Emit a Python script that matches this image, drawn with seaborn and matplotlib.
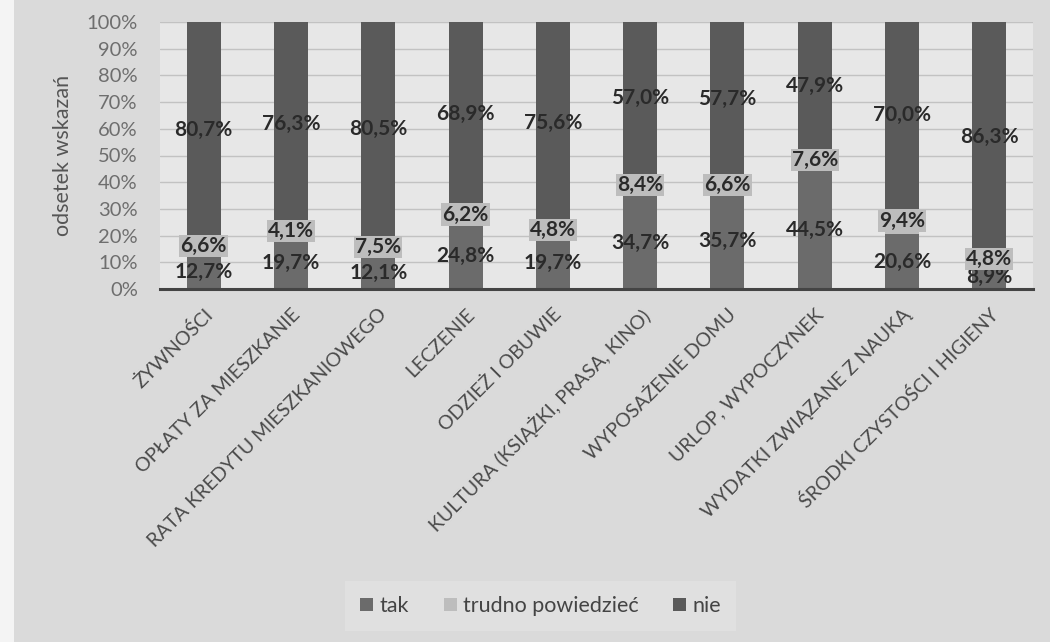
import numpy as np
import pandas as pd
import matplotlib
matplotlib.use("Agg")
import matplotlib.pyplot as plt
import seaborn as sns
from matplotlib.patches import Patch, Rectangle

categories = [
    "ŻYWNOŚCI",
    "OPŁATY ZA MIESZKANIE",
    "RATA KREDYTU MIESZKANIOWEGO",
    "LECZENIE",
    "ODZIEŻ I OBUWIE",
    "KULTURA (KSIĄŻKI, PRASA, KINO)",
    "WYPOSAŻENIE DOMU",
    "URLOP, WYPOCZYNEK",
    "WYDATKI ZWIĄZANE Z NAUKĄ",
    "ŚRODKI CZYSTOŚCI I HIGIENY",
]
tak = [12.7, 19.7, 12.1, 24.8, 19.7, 34.7, 35.7, 44.5, 20.6, 8.9]
trudno = [6.6, 4.1, 7.5, 6.2, 4.8, 8.4, 6.6, 7.6, 9.4, 4.8]
nie = [80.7, 76.3, 80.5, 68.9, 75.6, 57.0, 57.7, 47.9, 70.0, 86.3]
series_names = ["tak", "trudno powiedzieć", "nie"]
y_ticks = list(range(0, 101, 10))

c_tak = "#6b6b6b"
c_trudno = "#bdbdbd"
c_nie = "#5a5a5a"

sns.set_theme(style="white")
plt.rcParams["font.family"] = ["Lato", "DejaVu Sans"]

df = pd.DataFrame({"kat": categories, "tak": tak, "trudno": trudno, "nie": nie})
df["cum1"] = df["tak"]
df["cum2"] = df["tak"] + df["trudno"]
df["cum3"] = df["cum2"] + df["nie"]

fig = plt.figure(figsize=(10.5, 6.42), dpi=100)
fig.patch.set_facecolor("#dadada")
# pale strip along the left edge of the page
fig.patches.append(Rectangle((0, 0), 14 / 1050, 1, transform=fig.transFigure,
                             facecolor="#f4f4f4", edgecolor="none", zorder=0))

ax = fig.add_axes([160 / 1050, 1 - 289 / 642, 873 / 1050, 267 / 642])
ax.set_facecolor("#e7e7e7")

bw = 0.39
# cumulative layers, drawn back to front
sns.barplot(data=df, x="kat", y="cum3", color=c_nie, width=bw, saturation=1,
            ax=ax, zorder=3)
sns.barplot(data=df, x="kat", y="cum2", color=c_trudno, width=bw, saturation=1,
            ax=ax, zorder=3)
sns.barplot(data=df, x="kat", y="cum1", color=c_tak, width=bw, saturation=1,
            ax=ax, zorder=3)
for p in ax.patches:
    p.set_edgecolor("none")

ax.set_ylim(0, 100)
ax.set_xlim(-0.5, len(categories) - 0.5)
ax.set_yticks(y_ticks)
ax.set_yticklabels([f"{v}%" for v in y_ticks], color="#6e6e6e", fontsize=14.5)
ax.tick_params(axis="y", length=0, pad=16)
ax.tick_params(axis="x", length=0, pad=12)
ax.yaxis.grid(True, color="#c2c2c2", linewidth=1.0, zorder=0)
ax.set_axisbelow(True)
for s in ["top", "right", "left"]:
    ax.spines[s].set_visible(False)
ax.spines["bottom"].set_color("#444444")
ax.spines["bottom"].set_linewidth(2.2)
ax.spines["bottom"].set_zorder(5)

ax.set_xticks(range(len(categories)))
ax.set_xticklabels(categories, rotation=45, ha="right", rotation_mode="anchor",
                   fontsize=14, color="#4a4a4a")
ax.set_xlabel("")
ax.set_ylabel("odsetek wskazań", fontsize=15.5, color="#555555", labelpad=10)


def fmt(v):
    return f"{v:.1f}".replace(".", ",") + "%"


lab_kw = dict(ha="center", va="center", fontsize=15, fontweight="bold",
              color="#2a2a2a", zorder=6)
for i in range(len(categories)):
    ax.text(i, tak[i] / 2, fmt(tak[i]), **lab_kw)
    ax.text(i, tak[i] + trudno[i] / 2, fmt(trudno[i]),
            bbox=dict(boxstyle="square,pad=0.05", facecolor=c_trudno,
                      edgecolor="none"), **lab_kw)
    ax.text(i, tak[i] + trudno[i] + nie[i] / 2, fmt(nie[i]), **lab_kw)

handles = [Patch(facecolor=c, edgecolor="none") for c in (c_tak, c_trudno, c_nie)]
leg = fig.legend(handles, series_names, loc="center", bbox_to_anchor=(0.515, 1 - 606 / 642),
                 ncol=3, frameon=True, fontsize=15.5, handlelength=0.6, handleheight=0.6,
                 handletextpad=0.3, columnspacing=1.6, borderpad=0.7)
leg.get_frame().set_facecolor("#e2e2e2")
leg.get_frame().set_edgecolor("none")
leg.get_frame().set_boxstyle("square", pad=0)
for t in leg.get_texts():
    t.set_color("#444444")

fig.savefig("out.png", dpi=100, facecolor=fig.get_facecolor())
